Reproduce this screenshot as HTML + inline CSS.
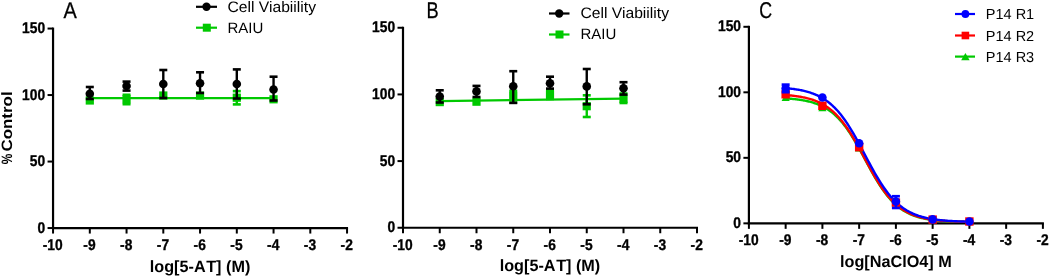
<!DOCTYPE html><html><head><meta charset="utf-8"><style>html,body{margin:0;padding:0;background:#fff;overflow:hidden}svg{display:block;will-change:transform}</style></head><body>
<svg width="1050" height="276" viewBox="0 0 1050 276" font-family='"Liberation Sans", sans-serif' text-rendering="geometricPrecision">
<rect width="1050" height="276" fill="#fff"/>
<line x1="53.05" y1="27.55" x2="53.05" y2="229.05" stroke="#000" stroke-width="2.2"/>
<line x1="52.05" y1="228.05" x2="348.05" y2="228.05" stroke="#000" stroke-width="2.2"/>
<line x1="47.55" y1="228.05" x2="53.05" y2="228.05" stroke="#000" stroke-width="2"/>
<text transform="translate(45.15,232.55) scale(0.89,1)" font-size="15.5" font-weight="bold" text-anchor="end" stroke="#000" stroke-width="0.35">0</text>
<line x1="47.55" y1="161.55" x2="53.05" y2="161.55" stroke="#000" stroke-width="2"/>
<text transform="translate(45.15,166.05) scale(0.89,1)" font-size="15.5" font-weight="bold" text-anchor="end" stroke="#000" stroke-width="0.35">50</text>
<line x1="47.55" y1="95.05" x2="53.05" y2="95.05" stroke="#000" stroke-width="2"/>
<text transform="translate(45.15,99.55) scale(0.89,1)" font-size="15.5" font-weight="bold" text-anchor="end" stroke="#000" stroke-width="0.35">100</text>
<line x1="47.55" y1="28.55" x2="53.05" y2="28.55" stroke="#000" stroke-width="2"/>
<text transform="translate(45.15,33.05) scale(0.89,1)" font-size="15.5" font-weight="bold" text-anchor="end" stroke="#000" stroke-width="0.35">150</text>
<line x1="53.05" y1="228.05" x2="53.05" y2="233.55" stroke="#000" stroke-width="2"/>
<text transform="translate(52.75,249.85) scale(0.89,1)" font-size="15.5" font-weight="bold" text-anchor="middle" stroke="#000" stroke-width="0.35">-10</text>
<line x1="89.8" y1="228.05" x2="89.8" y2="233.55" stroke="#000" stroke-width="2"/>
<text transform="translate(89.5,249.85) scale(0.89,1)" font-size="15.5" font-weight="bold" text-anchor="middle" stroke="#000" stroke-width="0.35">-9</text>
<line x1="126.55" y1="228.05" x2="126.55" y2="233.55" stroke="#000" stroke-width="2"/>
<text transform="translate(126.25,249.85) scale(0.89,1)" font-size="15.5" font-weight="bold" text-anchor="middle" stroke="#000" stroke-width="0.35">-8</text>
<line x1="163.3" y1="228.05" x2="163.3" y2="233.55" stroke="#000" stroke-width="2"/>
<text transform="translate(163.0,249.85) scale(0.89,1)" font-size="15.5" font-weight="bold" text-anchor="middle" stroke="#000" stroke-width="0.35">-7</text>
<line x1="200.05" y1="228.05" x2="200.05" y2="233.55" stroke="#000" stroke-width="2"/>
<text transform="translate(199.75,249.85) scale(0.89,1)" font-size="15.5" font-weight="bold" text-anchor="middle" stroke="#000" stroke-width="0.35">-6</text>
<line x1="236.8" y1="228.05" x2="236.8" y2="233.55" stroke="#000" stroke-width="2"/>
<text transform="translate(236.5,249.85) scale(0.89,1)" font-size="15.5" font-weight="bold" text-anchor="middle" stroke="#000" stroke-width="0.35">-5</text>
<line x1="273.55" y1="228.05" x2="273.55" y2="233.55" stroke="#000" stroke-width="2"/>
<text transform="translate(273.25,249.85) scale(0.89,1)" font-size="15.5" font-weight="bold" text-anchor="middle" stroke="#000" stroke-width="0.35">-4</text>
<line x1="310.3" y1="228.05" x2="310.3" y2="233.55" stroke="#000" stroke-width="2"/>
<text transform="translate(310.0,249.85) scale(0.89,1)" font-size="15.5" font-weight="bold" text-anchor="middle" stroke="#000" stroke-width="0.35">-3</text>
<line x1="347.05" y1="228.05" x2="347.05" y2="233.55" stroke="#000" stroke-width="2"/>
<text transform="translate(346.75,249.85) scale(0.89,1)" font-size="15.5" font-weight="bold" text-anchor="middle" stroke="#000" stroke-width="0.35">-2</text>
<text x="200.05" y="271.55" text-anchor="middle" font-size="16.4" font-weight="bold" textLength="100.6" lengthAdjust="spacingAndGlyphs">log[5-A<tspan dx="1.8">T</tspan>] (M)</text>
<text transform="translate(12.3,151.6) rotate(-90)" font-size="15" font-weight="bold" textLength="60.2" lengthAdjust="spacingAndGlyphs">Control</text>
<text transform="translate(12.3,164.2) rotate(-90)" font-size="15" font-weight="bold" textLength="10.6" lengthAdjust="spacingAndGlyphs">%</text>
<text transform="translate(63.6,17.7) scale(0.88,1)" font-size="22.6" stroke="#000" stroke-width="0.3">A</text>
<line x1="196" y1="6.8" x2="217" y2="6.8" stroke="#000" stroke-width="2.2"/>
<circle cx="206.5" cy="6.8" r="4.2" fill="#000"/>
<text x="227.4" y="11.8" font-size="15.2" textLength="88.6" lengthAdjust="spacingAndGlyphs">Cell Viabiility</text>
<line x1="196" y1="27.7" x2="217" y2="27.7" stroke="#00c900" stroke-width="2.2"/>
<rect x="202.8" y="23.7" width="8" height="8" fill="#00c900"/>
<text x="227.4" y="32.6" font-size="15">RAIU</text>
<line x1="89.8" y1="98.1" x2="273.55" y2="98.1" stroke="#00c900" stroke-width="2.2"/>
<rect x="85.7" y="96.4" width="8.2" height="8.2" fill="#00c900"/>
<line x1="126.55" y1="94.8" x2="126.55" y2="104.2" stroke="#00c900" stroke-width="2.4"/>
<line x1="122.55" y1="94.8" x2="130.55" y2="94.8" stroke="#00c900" stroke-width="2.6"/>
<line x1="122.55" y1="104.2" x2="130.55" y2="104.2" stroke="#00c900" stroke-width="2.6"/>
<rect x="122.45" y="95.2" width="8.2" height="8.2" fill="#00c900"/>
<rect x="159.2" y="91.4" width="8.2" height="8.2" fill="#00c900"/>
<rect x="195.95" y="91.5" width="8.2" height="8.2" fill="#00c900"/>
<line x1="236.8" y1="91.1" x2="236.8" y2="104.4" stroke="#00c900" stroke-width="2.4"/>
<line x1="232.8" y1="91.1" x2="240.8" y2="91.1" stroke="#00c900" stroke-width="2.6"/>
<line x1="232.8" y1="104.4" x2="240.8" y2="104.4" stroke="#00c900" stroke-width="2.6"/>
<rect x="232.7" y="93.6" width="8.2" height="8.2" fill="#00c900"/>
<rect x="269.45" y="95.2" width="8.2" height="8.2" fill="#00c900"/>
<line x1="89.8" y1="87" x2="89.8" y2="99" stroke="#000" stroke-width="2.4"/>
<line x1="85.8" y1="87" x2="93.8" y2="87" stroke="#000" stroke-width="2.6"/>
<line x1="85.8" y1="99" x2="93.8" y2="99" stroke="#000" stroke-width="2.6"/>
<circle cx="89.8" cy="93.8" r="4.3" fill="#000"/>
<line x1="126.55" y1="81.6" x2="126.55" y2="90.6" stroke="#000" stroke-width="2.4"/>
<line x1="122.55" y1="81.6" x2="130.55" y2="81.6" stroke="#000" stroke-width="2.6"/>
<line x1="122.55" y1="90.6" x2="130.55" y2="90.6" stroke="#000" stroke-width="2.6"/>
<circle cx="126.55" cy="86" r="4.3" fill="#000"/>
<line x1="163.3" y1="70" x2="163.3" y2="98" stroke="#000" stroke-width="2.4"/>
<line x1="159.3" y1="70" x2="167.3" y2="70" stroke="#000" stroke-width="2.6"/>
<line x1="159.3" y1="98" x2="167.3" y2="98" stroke="#000" stroke-width="2.6"/>
<circle cx="163.3" cy="84" r="4.3" fill="#000"/>
<line x1="200.05" y1="72.3" x2="200.05" y2="93" stroke="#000" stroke-width="2.4"/>
<line x1="196.05" y1="72.3" x2="204.05" y2="72.3" stroke="#000" stroke-width="2.6"/>
<line x1="196.05" y1="93" x2="204.05" y2="93" stroke="#000" stroke-width="2.6"/>
<circle cx="200.05" cy="83.2" r="4.3" fill="#000"/>
<line x1="236.8" y1="69.4" x2="236.8" y2="98.5" stroke="#000" stroke-width="2.4"/>
<line x1="232.8" y1="69.4" x2="240.8" y2="69.4" stroke="#000" stroke-width="2.6"/>
<line x1="232.8" y1="98.5" x2="240.8" y2="98.5" stroke="#000" stroke-width="2.6"/>
<circle cx="236.8" cy="84" r="4.3" fill="#000"/>
<line x1="273.55" y1="76.7" x2="273.55" y2="100.5" stroke="#000" stroke-width="2.4"/>
<line x1="269.55" y1="76.7" x2="277.55" y2="76.7" stroke="#000" stroke-width="2.6"/>
<line x1="269.55" y1="100.5" x2="277.55" y2="100.5" stroke="#000" stroke-width="2.6"/>
<circle cx="273.55" cy="89.5" r="4.3" fill="#000"/>
<line x1="403.0" y1="26.76" x2="403.0" y2="228.75" stroke="#000" stroke-width="2.2"/>
<line x1="402.0" y1="227.75" x2="698.0" y2="227.75" stroke="#000" stroke-width="2.2"/>
<line x1="397.5" y1="227.75" x2="403.0" y2="227.75" stroke="#000" stroke-width="2"/>
<text transform="translate(395.1,232.25) scale(0.89,1)" font-size="15.5" font-weight="bold" text-anchor="end" stroke="#000" stroke-width="0.35">0</text>
<line x1="397.5" y1="161.09" x2="403.0" y2="161.09" stroke="#000" stroke-width="2"/>
<text transform="translate(395.1,165.59) scale(0.89,1)" font-size="15.5" font-weight="bold" text-anchor="end" stroke="#000" stroke-width="0.35">50</text>
<line x1="397.5" y1="94.42" x2="403.0" y2="94.42" stroke="#000" stroke-width="2"/>
<text transform="translate(395.1,98.92) scale(0.89,1)" font-size="15.5" font-weight="bold" text-anchor="end" stroke="#000" stroke-width="0.35">100</text>
<line x1="397.5" y1="27.76" x2="403.0" y2="27.76" stroke="#000" stroke-width="2"/>
<text transform="translate(395.1,32.26) scale(0.89,1)" font-size="15.5" font-weight="bold" text-anchor="end" stroke="#000" stroke-width="0.35">150</text>
<line x1="403.0" y1="227.75" x2="403.0" y2="233.25" stroke="#000" stroke-width="2"/>
<text transform="translate(402.7,249.55) scale(0.89,1)" font-size="15.5" font-weight="bold" text-anchor="middle" stroke="#000" stroke-width="0.35">-10</text>
<line x1="439.75" y1="227.75" x2="439.75" y2="233.25" stroke="#000" stroke-width="2"/>
<text transform="translate(439.45,249.55) scale(0.89,1)" font-size="15.5" font-weight="bold" text-anchor="middle" stroke="#000" stroke-width="0.35">-9</text>
<line x1="476.5" y1="227.75" x2="476.5" y2="233.25" stroke="#000" stroke-width="2"/>
<text transform="translate(476.2,249.55) scale(0.89,1)" font-size="15.5" font-weight="bold" text-anchor="middle" stroke="#000" stroke-width="0.35">-8</text>
<line x1="513.25" y1="227.75" x2="513.25" y2="233.25" stroke="#000" stroke-width="2"/>
<text transform="translate(512.95,249.55) scale(0.89,1)" font-size="15.5" font-weight="bold" text-anchor="middle" stroke="#000" stroke-width="0.35">-7</text>
<line x1="550.0" y1="227.75" x2="550.0" y2="233.25" stroke="#000" stroke-width="2"/>
<text transform="translate(549.7,249.55) scale(0.89,1)" font-size="15.5" font-weight="bold" text-anchor="middle" stroke="#000" stroke-width="0.35">-6</text>
<line x1="586.75" y1="227.75" x2="586.75" y2="233.25" stroke="#000" stroke-width="2"/>
<text transform="translate(586.45,249.55) scale(0.89,1)" font-size="15.5" font-weight="bold" text-anchor="middle" stroke="#000" stroke-width="0.35">-5</text>
<line x1="623.5" y1="227.75" x2="623.5" y2="233.25" stroke="#000" stroke-width="2"/>
<text transform="translate(623.2,249.55) scale(0.89,1)" font-size="15.5" font-weight="bold" text-anchor="middle" stroke="#000" stroke-width="0.35">-4</text>
<line x1="660.25" y1="227.75" x2="660.25" y2="233.25" stroke="#000" stroke-width="2"/>
<text transform="translate(659.95,249.55) scale(0.89,1)" font-size="15.5" font-weight="bold" text-anchor="middle" stroke="#000" stroke-width="0.35">-3</text>
<line x1="697.0" y1="227.75" x2="697.0" y2="233.25" stroke="#000" stroke-width="2"/>
<text transform="translate(696.7,249.55) scale(0.89,1)" font-size="15.5" font-weight="bold" text-anchor="middle" stroke="#000" stroke-width="0.35">-2</text>
<text x="550.0" y="271.25" text-anchor="middle" font-size="16.4" font-weight="bold" textLength="100.6" lengthAdjust="spacingAndGlyphs">log[5-A<tspan dx="1.8">T</tspan>] (M)</text>
<text transform="translate(426.4,17.8) scale(0.8,1)" font-size="22.8" stroke="#000" stroke-width="0.3">B</text>
<line x1="549" y1="13.5" x2="569.5" y2="13.5" stroke="#000" stroke-width="2.2"/>
<circle cx="559.2" cy="13.5" r="4.2" fill="#000"/>
<text x="580.4" y="18.3" font-size="15.2" textLength="88.6" lengthAdjust="spacingAndGlyphs">Cell Viabiility</text>
<line x1="549" y1="34.5" x2="569.5" y2="34.5" stroke="#00c900" stroke-width="2.2"/>
<rect x="555.5" y="30.5" width="8" height="8" fill="#00c900"/>
<text x="580.4" y="39.3" font-size="15">RAIU</text>
<line x1="439.75" y1="101.1" x2="623.5" y2="98.6" stroke="#00c900" stroke-width="2.2"/>
<rect x="435.65" y="98.0" width="8.2" height="8.2" fill="#00c900"/>
<rect x="472.4" y="97.6" width="8.2" height="8.2" fill="#00c900"/>
<line x1="513.25" y1="90.8" x2="513.25" y2="102.5" stroke="#00c900" stroke-width="2.4"/>
<line x1="509.25" y1="90.8" x2="517.25" y2="90.8" stroke="#00c900" stroke-width="2.6"/>
<line x1="509.25" y1="102.5" x2="517.25" y2="102.5" stroke="#00c900" stroke-width="2.6"/>
<rect x="509.15" y="91.9" width="8.2" height="8.2" fill="#00c900"/>
<line x1="550.0" y1="90" x2="550.0" y2="99" stroke="#00c900" stroke-width="2.4"/>
<line x1="546.0" y1="90" x2="554.0" y2="90" stroke="#00c900" stroke-width="2.6"/>
<line x1="546.0" y1="99" x2="554.0" y2="99" stroke="#00c900" stroke-width="2.6"/>
<rect x="545.9" y="90.4" width="8.2" height="8.2" fill="#00c900"/>
<line x1="586.75" y1="95.3" x2="586.75" y2="117" stroke="#00c900" stroke-width="2.4"/>
<line x1="582.75" y1="95.3" x2="590.75" y2="95.3" stroke="#00c900" stroke-width="2.6"/>
<line x1="582.75" y1="117" x2="590.75" y2="117" stroke="#00c900" stroke-width="2.6"/>
<rect x="582.65" y="102.1" width="8.2" height="8.2" fill="#00c900"/>
<line x1="623.5" y1="93.5" x2="623.5" y2="103" stroke="#00c900" stroke-width="2.4"/>
<line x1="619.5" y1="93.5" x2="627.5" y2="93.5" stroke="#00c900" stroke-width="2.6"/>
<line x1="619.5" y1="103" x2="627.5" y2="103" stroke="#00c900" stroke-width="2.6"/>
<rect x="619.4" y="94.7" width="8.2" height="8.2" fill="#00c900"/>
<line x1="439.75" y1="90.3" x2="439.75" y2="102.5" stroke="#000" stroke-width="2.4"/>
<line x1="435.75" y1="90.3" x2="443.75" y2="90.3" stroke="#000" stroke-width="2.6"/>
<line x1="435.75" y1="102.5" x2="443.75" y2="102.5" stroke="#000" stroke-width="2.6"/>
<circle cx="439.75" cy="96.5" r="4.3" fill="#000"/>
<line x1="476.5" y1="85.9" x2="476.5" y2="97" stroke="#000" stroke-width="2.4"/>
<line x1="472.5" y1="85.9" x2="480.5" y2="85.9" stroke="#000" stroke-width="2.6"/>
<line x1="472.5" y1="97" x2="480.5" y2="97" stroke="#000" stroke-width="2.6"/>
<circle cx="476.5" cy="91.4" r="4.3" fill="#000"/>
<line x1="513.25" y1="71.2" x2="513.25" y2="102.9" stroke="#000" stroke-width="2.4"/>
<line x1="509.25" y1="71.2" x2="517.25" y2="71.2" stroke="#000" stroke-width="2.6"/>
<line x1="509.25" y1="102.9" x2="517.25" y2="102.9" stroke="#000" stroke-width="2.6"/>
<circle cx="513.25" cy="86.2" r="4.3" fill="#000"/>
<line x1="550.0" y1="76.7" x2="550.0" y2="88.6" stroke="#000" stroke-width="2.4"/>
<line x1="546.0" y1="76.7" x2="554.0" y2="76.7" stroke="#000" stroke-width="2.6"/>
<line x1="546.0" y1="88.6" x2="554.0" y2="88.6" stroke="#000" stroke-width="2.6"/>
<circle cx="550.0" cy="83.3" r="4.3" fill="#000"/>
<line x1="586.75" y1="69" x2="586.75" y2="104.3" stroke="#000" stroke-width="2.4"/>
<line x1="582.75" y1="69" x2="590.75" y2="69" stroke="#000" stroke-width="2.6"/>
<line x1="582.75" y1="104.3" x2="590.75" y2="104.3" stroke="#000" stroke-width="2.6"/>
<circle cx="586.75" cy="86.4" r="4.3" fill="#000"/>
<line x1="623.5" y1="82.2" x2="623.5" y2="94.6" stroke="#000" stroke-width="2.4"/>
<line x1="619.5" y1="82.2" x2="627.5" y2="82.2" stroke="#000" stroke-width="2.6"/>
<line x1="619.5" y1="94.6" x2="627.5" y2="94.6" stroke="#000" stroke-width="2.6"/>
<circle cx="623.5" cy="88.3" r="4.3" fill="#000"/>
<line x1="748.9" y1="25.8" x2="748.9" y2="224.35" stroke="#000" stroke-width="2.2"/>
<line x1="747.9" y1="223.35" x2="1043.9" y2="223.35" stroke="#000" stroke-width="2.2"/>
<line x1="743.4" y1="223.35" x2="748.9" y2="223.35" stroke="#000" stroke-width="2"/>
<text transform="translate(741.0,227.85) scale(0.89,1)" font-size="15.5" font-weight="bold" text-anchor="end" stroke="#000" stroke-width="0.35">0</text>
<line x1="743.4" y1="157.83" x2="748.9" y2="157.83" stroke="#000" stroke-width="2"/>
<text transform="translate(741.0,162.33) scale(0.89,1)" font-size="15.5" font-weight="bold" text-anchor="end" stroke="#000" stroke-width="0.35">50</text>
<line x1="743.4" y1="92.32" x2="748.9" y2="92.32" stroke="#000" stroke-width="2"/>
<text transform="translate(741.0,96.82) scale(0.89,1)" font-size="15.5" font-weight="bold" text-anchor="end" stroke="#000" stroke-width="0.35">100</text>
<line x1="743.4" y1="26.8" x2="748.9" y2="26.8" stroke="#000" stroke-width="2"/>
<text transform="translate(741.0,31.3) scale(0.89,1)" font-size="15.5" font-weight="bold" text-anchor="end" stroke="#000" stroke-width="0.35">150</text>
<line x1="748.9" y1="223.35" x2="748.9" y2="228.85" stroke="#000" stroke-width="2"/>
<text transform="translate(748.6,245.15) scale(0.89,1)" font-size="15.5" font-weight="bold" text-anchor="middle" stroke="#000" stroke-width="0.35">-10</text>
<line x1="785.65" y1="223.35" x2="785.65" y2="228.85" stroke="#000" stroke-width="2"/>
<text transform="translate(785.35,245.15) scale(0.89,1)" font-size="15.5" font-weight="bold" text-anchor="middle" stroke="#000" stroke-width="0.35">-9</text>
<line x1="822.4" y1="223.35" x2="822.4" y2="228.85" stroke="#000" stroke-width="2"/>
<text transform="translate(822.1,245.15) scale(0.89,1)" font-size="15.5" font-weight="bold" text-anchor="middle" stroke="#000" stroke-width="0.35">-8</text>
<line x1="859.15" y1="223.35" x2="859.15" y2="228.85" stroke="#000" stroke-width="2"/>
<text transform="translate(858.85,245.15) scale(0.89,1)" font-size="15.5" font-weight="bold" text-anchor="middle" stroke="#000" stroke-width="0.35">-7</text>
<line x1="895.9" y1="223.35" x2="895.9" y2="228.85" stroke="#000" stroke-width="2"/>
<text transform="translate(895.6,245.15) scale(0.89,1)" font-size="15.5" font-weight="bold" text-anchor="middle" stroke="#000" stroke-width="0.35">-6</text>
<line x1="932.65" y1="223.35" x2="932.65" y2="228.85" stroke="#000" stroke-width="2"/>
<text transform="translate(932.35,245.15) scale(0.89,1)" font-size="15.5" font-weight="bold" text-anchor="middle" stroke="#000" stroke-width="0.35">-5</text>
<line x1="969.4" y1="223.35" x2="969.4" y2="228.85" stroke="#000" stroke-width="2"/>
<text transform="translate(969.1,245.15) scale(0.89,1)" font-size="15.5" font-weight="bold" text-anchor="middle" stroke="#000" stroke-width="0.35">-4</text>
<line x1="1006.15" y1="223.35" x2="1006.15" y2="228.85" stroke="#000" stroke-width="2"/>
<text transform="translate(1005.85,245.15) scale(0.89,1)" font-size="15.5" font-weight="bold" text-anchor="middle" stroke="#000" stroke-width="0.35">-3</text>
<line x1="1042.9" y1="223.35" x2="1042.9" y2="228.85" stroke="#000" stroke-width="2"/>
<text transform="translate(1042.6,245.15) scale(0.89,1)" font-size="15.5" font-weight="bold" text-anchor="middle" stroke="#000" stroke-width="0.35">-2</text>
<text x="895.9" y="266.85" text-anchor="middle" font-size="16.4" font-weight="bold" textLength="111.8" lengthAdjust="spacingAndGlyphs">log[NaClO4] M</text>
<text transform="translate(759.2,17.9) scale(0.78,1)" font-size="22.8" stroke="#000" stroke-width="0.3">C</text>
<line x1="955" y1="14" x2="975" y2="14" stroke="#0000ff" stroke-width="2.2"/>
<circle cx="965.4" cy="14" r="3.9" fill="#0000ff"/>
<text x="985.8" y="19" font-size="14.5">P14 R1</text>
<line x1="955" y1="35.5" x2="975" y2="35.5" stroke="#ff0000" stroke-width="2.2"/>
<rect x="961.6" y="31.7" width="7.6" height="7.6" fill="#ff0000"/>
<text x="985.8" y="40.5" font-size="14.5">P14 R2</text>
<line x1="955" y1="56.6" x2="975" y2="56.6" stroke="#00c900" stroke-width="2.2"/>
<polygon points="961.15,60.3 969.65,60.3 965.4,52.9" fill="#00c900"/>
<text x="985.8" y="61.6" font-size="14.5">P14 R3</text>
<polyline points="785.65,98.39 786.57,98.45 787.49,98.51 788.41,98.58 789.32,98.65 790.24,98.72 791.16,98.80 792.08,98.89 793.00,98.97 793.92,99.07 794.84,99.16 795.76,99.27 796.67,99.38 797.59,99.49 798.51,99.61 799.43,99.74 800.35,99.87 801.27,100.02 802.19,100.16 803.11,100.32 804.02,100.49 804.94,100.66 805.86,100.84 806.78,101.04 807.70,101.24 808.62,101.46 809.54,101.68 810.46,101.92 811.38,102.17 812.29,102.43 813.21,102.71 814.13,103.00 815.05,103.30 815.97,103.62 816.89,103.96 817.81,104.31 818.73,104.68 819.64,105.07 820.56,105.48 821.48,105.91 822.40,106.36 823.32,106.83 824.24,107.32 825.16,107.84 826.07,108.37 826.99,108.94 827.91,109.53 828.83,110.15 829.75,110.79 830.67,111.46 831.59,112.16 832.51,112.90 833.42,113.66 834.34,114.45 835.26,115.28 836.18,116.13 837.10,117.03 838.02,117.95 838.94,118.91 839.86,119.91 840.77,120.94 841.69,122.00 842.61,123.10 843.53,124.24 844.45,125.41 845.37,126.62 846.29,127.87 847.21,129.15 848.12,130.46 849.04,131.81 849.96,133.19 850.88,134.61 851.80,136.05 852.72,137.53 853.64,139.04 854.56,140.57 855.48,142.13 856.39,143.71 857.31,145.32 858.23,146.94 859.15,148.59 860.07,150.25 860.99,151.92 861.91,153.61 862.82,155.30 863.74,157.01 864.66,158.71 865.58,160.42 866.50,162.12 867.42,163.83 868.34,165.52 869.26,167.21 870.17,168.89 871.09,170.55 872.01,172.20 872.93,173.83 873.85,175.44 874.77,177.03 875.69,178.59 876.61,180.13 877.52,181.64 878.44,183.12 879.36,184.57 880.28,186.00 881.20,187.38 882.12,188.74 883.04,190.06 883.96,191.35 884.88,192.60 885.79,193.82 886.71,195.00 887.63,196.14 888.55,197.25 889.47,198.32 890.39,199.36 891.31,200.36 892.23,201.33 893.14,202.26 894.06,203.16 894.98,204.03 895.90,204.86 896.82,205.66 897.74,206.42 898.66,207.16 899.57,207.87 900.49,208.55 901.41,209.20 902.33,209.82 903.25,210.41 904.17,210.98 905.09,211.53 906.01,212.05 906.92,212.55 907.84,213.02 908.76,213.47 909.68,213.91 910.60,214.32 911.52,214.71 912.44,215.09 913.36,215.44 914.27,215.78 915.19,216.11 916.11,216.41 917.03,216.71 917.95,216.99 918.87,217.25 919.79,217.50 920.71,217.74 921.62,217.97 922.54,218.19 923.46,218.39 924.38,218.59 925.30,218.77 926.22,218.95 927.14,219.12 928.06,219.27 928.98,219.43 929.89,219.57 930.81,219.70 931.73,219.83 932.65,219.96 933.57,220.07 934.49,220.18 935.41,220.29 936.32,220.38 937.24,220.48 938.16,220.57 939.08,220.65 940.00,220.73 940.92,220.81 941.84,220.88 942.76,220.95 943.67,221.01 944.59,221.07 945.51,221.13 946.43,221.19 947.35,221.24 948.27,221.29 949.19,221.33 950.11,221.38 951.02,221.42 951.94,221.46 952.86,221.50 953.78,221.53 954.70,221.57 955.62,221.60 956.54,221.63 957.46,221.66 958.38,221.68 959.29,221.71 960.21,221.74 961.13,221.76 962.05,221.78 962.97,221.80 963.89,221.82 964.81,221.84 965.73,221.86 966.64,221.87 967.56,221.89 968.48,221.90 969.40,221.92" fill="none" stroke="#00c900" stroke-width="2.4"/>
<polyline points="785.65,95.08 786.57,95.15 787.49,95.22 788.41,95.30 789.32,95.38 790.24,95.47 791.16,95.56 792.08,95.66 793.00,95.76 793.92,95.87 794.84,95.98 795.76,96.10 796.67,96.23 797.59,96.36 798.51,96.50 799.43,96.65 800.35,96.80 801.27,96.97 802.19,97.14 803.11,97.32 804.02,97.50 804.94,97.70 805.86,97.91 806.78,98.13 807.70,98.36 808.62,98.60 809.54,98.86 810.46,99.13 811.38,99.41 812.29,99.70 813.21,100.01 814.13,100.34 815.05,100.68 815.97,101.03 816.89,101.41 817.81,101.80 818.73,102.21 819.64,102.64 820.56,103.09 821.48,103.57 822.40,104.06 823.32,104.58 824.24,105.12 825.16,105.68 826.07,106.27 826.99,106.88 827.91,107.53 828.83,108.19 829.75,108.89 830.67,109.62 831.59,110.37 832.51,111.16 833.42,111.98 834.34,112.83 835.26,113.71 836.18,114.62 837.10,115.57 838.02,116.55 838.94,117.57 839.86,118.62 840.77,119.71 841.69,120.83 842.61,121.98 843.53,123.18 844.45,124.40 845.37,125.66 846.29,126.96 847.21,128.29 848.12,129.65 849.04,131.04 849.96,132.47 850.88,133.92 851.80,135.41 852.72,136.92 853.64,138.46 854.56,140.03 855.48,141.62 856.39,143.23 857.31,144.86 858.23,146.51 859.15,148.17 860.07,149.85 860.99,151.54 861.91,153.23 862.82,154.94 863.74,156.65 864.66,158.36 865.58,160.07 866.50,161.77 867.42,163.48 868.34,165.17 869.26,166.85 870.17,168.52 871.09,170.18 872.01,171.82 872.93,173.44 873.85,175.04 874.77,176.62 875.69,178.17 876.61,179.70 877.52,181.20 878.44,182.67 879.36,184.11 880.28,185.52 881.20,186.90 882.12,188.25 883.04,189.56 883.96,190.84 884.88,192.08 885.79,193.29 886.71,194.47 887.63,195.61 888.55,196.71 889.47,197.78 890.39,198.82 891.31,199.82 892.23,200.78 893.14,201.71 894.06,202.61 894.98,203.48 895.90,204.31 896.82,205.11 897.74,205.89 898.66,206.63 899.57,207.34 900.49,208.02 901.41,208.68 902.33,209.31 903.25,209.91 904.17,210.49 905.09,211.04 906.01,211.57 906.92,212.07 907.84,212.56 908.76,213.02 909.68,213.46 910.60,213.88 911.52,214.28 912.44,214.67 913.36,215.03 914.27,215.38 915.19,215.71 916.11,216.03 917.03,216.33 917.95,216.62 918.87,216.90 919.79,217.16 920.71,217.41 921.62,217.64 922.54,217.87 923.46,218.08 924.38,218.29 925.30,218.48 926.22,218.66 927.14,218.84 928.06,219.01 928.98,219.16 929.89,219.32 930.81,219.46 931.73,219.59 932.65,219.72 933.57,219.85 934.49,219.96 935.41,220.07 936.32,220.18 937.24,220.28 938.16,220.37 939.08,220.46 940.00,220.55 940.92,220.63 941.84,220.71 942.76,220.78 943.67,220.85 944.59,220.92 945.51,220.98 946.43,221.04 947.35,221.09 948.27,221.15 949.19,221.20 950.11,221.25 951.02,221.29 951.94,221.34 952.86,221.38 953.78,221.42 954.70,221.45 955.62,221.49 956.54,221.52 957.46,221.55 958.38,221.58 959.29,221.61 960.21,221.64 961.13,221.66 962.05,221.69 962.97,221.71 963.89,221.73 964.81,221.75 965.73,221.77 966.64,221.79 967.56,221.81 968.48,221.83 969.40,221.84" fill="none" stroke="#ff0000" stroke-width="2.4"/>
<polyline points="785.65,88.14 786.57,88.22 787.49,88.31 788.41,88.40 789.32,88.50 790.24,88.60 791.16,88.70 792.08,88.82 793.00,88.93 793.92,89.06 794.84,89.19 795.76,89.32 796.67,89.47 797.59,89.62 798.51,89.77 799.43,89.94 800.35,90.12 801.27,90.30 802.19,90.49 803.11,90.69 804.02,90.90 804.94,91.13 805.86,91.36 806.78,91.61 807.70,91.86 808.62,92.13 809.54,92.41 810.46,92.71 811.38,93.02 812.29,93.35 813.21,93.69 814.13,94.04 815.05,94.42 815.97,94.81 816.89,95.22 817.81,95.64 818.73,96.09 819.64,96.56 820.56,97.05 821.48,97.56 822.40,98.09 823.32,98.65 824.24,99.23 825.16,99.83 826.07,100.46 826.99,101.12 827.91,101.80 828.83,102.52 829.75,103.26 830.67,104.03 831.59,104.83 832.51,105.66 833.42,106.52 834.34,107.41 835.26,108.34 836.18,109.30 837.10,110.29 838.02,111.32 838.94,112.38 839.86,113.48 840.77,114.61 841.69,115.77 842.61,116.97 843.53,118.20 844.45,119.47 845.37,120.77 846.29,122.11 847.21,123.48 848.12,124.88 849.04,126.31 849.96,127.78 850.88,129.27 851.80,130.80 852.72,132.35 853.64,133.92 854.56,135.52 855.48,137.15 856.39,138.79 857.31,140.46 858.23,142.14 859.15,143.84 860.07,145.55 860.99,147.28 861.91,149.01 862.82,150.75 863.74,152.49 864.66,154.24 865.58,155.99 866.50,157.73 867.42,159.47 868.34,161.21 869.26,162.93 870.17,164.64 871.09,166.34 872.01,168.03 872.93,169.69 873.85,171.34 874.77,172.97 875.69,174.57 876.61,176.15 877.52,177.70 878.44,179.23 879.36,180.72 880.28,182.19 881.20,183.63 882.12,185.03 883.04,186.40 883.96,187.74 884.88,189.05 885.79,190.32 886.71,191.55 887.63,192.76 888.55,193.92 889.47,195.06 890.39,196.15 891.31,197.22 892.23,198.25 893.14,199.24 894.06,200.21 894.98,201.13 895.90,202.03 896.82,202.90 897.74,203.73 898.66,204.53 899.57,205.30 900.49,206.05 901.41,206.76 902.33,207.45 903.25,208.11 904.17,208.74 905.09,209.35 906.01,209.93 906.92,210.49 907.84,211.02 908.76,211.53 909.68,212.02 910.60,212.49 911.52,212.94 912.44,213.37 913.36,213.78 914.27,214.17 915.19,214.55 916.11,214.91 917.03,215.25 917.95,215.57 918.87,215.89 919.79,216.18 920.71,216.47 921.62,216.74 922.54,216.99 923.46,217.24 924.38,217.47 925.30,217.70 926.22,217.91 927.14,218.11 928.06,218.31 928.98,218.49 929.89,218.67 930.81,218.83 931.73,218.99 932.65,219.14 933.57,219.29 934.49,219.42 935.41,219.55 936.32,219.68 937.24,219.80 938.16,219.91 939.08,220.02 940.00,220.12 940.92,220.21 941.84,220.31 942.76,220.39 943.67,220.48 944.59,220.56 945.51,220.63 946.43,220.70 947.35,220.77 948.27,220.83 949.19,220.90 950.11,220.95 951.02,221.01 951.94,221.06 952.86,221.11 953.78,221.16 954.70,221.21 955.62,221.25 956.54,221.29 957.46,221.33 958.38,221.36 959.29,221.40 960.21,221.43 961.13,221.46 962.05,221.49 962.97,221.52 963.89,221.55 964.81,221.58 965.73,221.60 966.64,221.62 967.56,221.65 968.48,221.67 969.40,221.69" fill="none" stroke="#0000ff" stroke-width="2.4"/>
<polygon points="781.55,101.07 789.75,101.07 785.65,93.93" fill="#00c900"/>
<polygon points="818.3,111.37 826.5,111.37 822.4,104.23" fill="#00c900"/>
<polygon points="855.05,151.57 863.25,151.57 859.15,144.43" fill="#00c900"/>
<polygon points="891.8,206.57 900.0,206.57 895.9,199.43" fill="#00c900"/>
<polygon points="928.55,223.17 936.75,223.17 932.65,216.03" fill="#00c900"/>
<polygon points="965.3,225.07 973.5,225.07 969.4,217.93" fill="#00c900"/>
<rect x="781.45" y="90.1" width="8.4" height="8.4" fill="#ff0000"/>
<rect x="818.2" y="101.6" width="8.4" height="8.4" fill="#ff0000"/>
<rect x="854.95" y="143.0" width="8.4" height="8.4" fill="#ff0000"/>
<rect x="891.7" y="198.4" width="8.4" height="8.4" fill="#ff0000"/>
<rect x="928.45" y="215.4" width="8.4" height="8.4" fill="#ff0000"/>
<rect x="965.2" y="217.3" width="8.4" height="8.4" fill="#ff0000"/>
<line x1="785.65" y1="84.6" x2="785.65" y2="92.2" stroke="#0000ff" stroke-width="2.4"/>
<line x1="781.65" y1="84.6" x2="789.65" y2="84.6" stroke="#0000ff" stroke-width="2.6"/>
<line x1="781.65" y1="92.2" x2="789.65" y2="92.2" stroke="#0000ff" stroke-width="2.6"/>
<line x1="895.9" y1="196.2" x2="895.9" y2="208" stroke="#0000ff" stroke-width="2.4"/>
<line x1="891.9" y1="196.2" x2="899.9" y2="196.2" stroke="#0000ff" stroke-width="2.6"/>
<line x1="891.9" y1="208" x2="899.9" y2="208" stroke="#0000ff" stroke-width="2.6"/>
<circle cx="785.65" cy="88.4" r="4.3" fill="#0000ff"/>
<circle cx="822.4" cy="97.5" r="4.3" fill="#0000ff"/>
<circle cx="859.15" cy="143.2" r="4.3" fill="#0000ff"/>
<circle cx="895.9" cy="201.5" r="4.3" fill="#0000ff"/>
<circle cx="932.65" cy="219.4" r="4.3" fill="#0000ff"/>
<circle cx="969.4" cy="221.5" r="4.3" fill="#0000ff"/>
</svg></body></html>
